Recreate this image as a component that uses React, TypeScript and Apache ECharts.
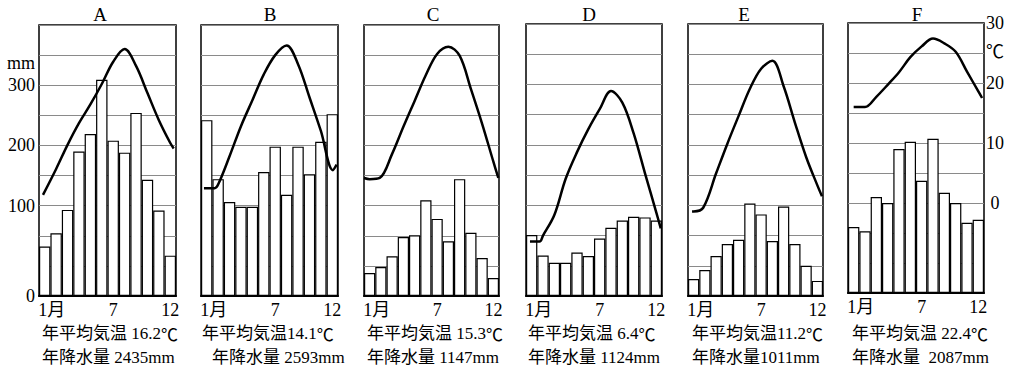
import { useEffect, useRef } from "react";
import * as echarts from "echarts";

const FONT = "'Liberation Serif', 'Noto Sans CJK JP', serif";
const CJK = "'Noto Sans CJK JP', sans-serif";

const panelNames = ["A", "B", "C", "D", "E", "F"];
const months = ["1", "2", "3", "4", "5", "6", "7", "8", "9", "10", "11", "12"];
const monthTickLabels = ["1月", "", "", "", "", "", "7", "", "", "", "", "12"];

// precipitation (mm) per month
const precipA = [82, 104, 143, 240, 269, 359, 258, 238, 304, 193, 142, 67];
const precipB = [292, 194, 156, 148, 148, 206, 248, 168, 248, 202, 256, 302];
const precipC = [38, 48, 66, 98, 101, 159, 128, 91, 194, 105, 63, 30];
const precipD = [101, 67, 55, 55, 72, 66, 95, 113, 125, 131, 130, 125];
const precipE = [28, 43, 66, 86, 93, 153, 135, 91, 148, 86, 50, 25];
const precipF = [110, 103, 160, 150, 240, 252, 187, 257, 167, 150, 117, 122];

// temperature curves: [month position (0..12, month k centred at k-0.5), °C]
const tempA: [number, number][] = [[0.35, 1.8], [1.5, 6.1], [2.5, 10.1], [3.5, 13.7], [4.5, 16.8], [5.5, 20.2], [6.5, 23.9], [7.5, 26.0], [8.5, 23.2], [9.5, 18.7], [10.5, 14.2], [11.5, 10.4], [11.8, 9.5]];
const tempB: [number, number][] = [[0.26, 2.9], [0.5, 2.9], [1.2, 2.9], [1.5, 3.5], [2.5, 8.2], [3.5, 13.2], [4.5, 17.5], [5.5, 21.8], [6.5, 25.0], [7.5, 26.6], [8.5, 23.5], [9.5, 18.0], [10.5, 12.4], [11.55, 5.9], [11.88, 6.8]];
const tempC: [number, number][] = [[0, 4.6], [0.5, 4.4], [1.4, 4.6], [2.5, 8.6], [3.5, 13.1], [4.5, 17.4], [5.5, 21.7], [6.5, 25.2], [7.5, 26.4], [8.5, 24.9], [9.5, 19.4], [10.5, 13.6], [11.5, 7.3], [11.94, 4.6]];
const tempD: [number, number][] = [[0.35, -6.0], [0.5, -6.0], [1.2, -6.0], [1.5, -5.0], [2.5, -1.6], [3.5, 4.4], [4.5, 8.8], [5.5, 12.6], [6.5, 15.9], [7.5, 18.9], [8.5, 17.0], [9.5, 11.9], [10.5, 5.3], [11.5, -1.2], [11.89, -3.8]];
const tempE: [number, number][] = [[0.36, -1.0], [0.5, -1.0], [1.35, -0.4], [2.5, 5.3], [3.5, 10.2], [4.5, 14.8], [5.5, 19.3], [6.5, 22.6], [7.5, 23.9], [8.5, 19.7], [9.5, 13.7], [10.5, 8.0], [11.5, 3.3], [11.91, 1.5]];
const tempF: [number, number][] = [[0.5, 16.0], [1.5, 16.0], [2.5, 17.7], [3.5, 19.7], [4.5, 21.8], [5.5, 24.3], [6.5, 26.1], [7.5, 27.4], [8.5, 26.6], [9.5, 25.2], [10.5, 21.9], [11.5, 18.6], [11.83, 17.5]];

const meanTempTexts = ["年平均気温 16.2℃", "年平均気温14.1℃", "年平均気温 15.3℃", "年平均気温 6.4℃", "年平均気温11.2℃", "年平均気温 22.4℃"];
const annualPrecipTexts = ["年降水量 2435mm", "年降水量 2593mm", "年降水量 1147mm", "年降水量 1124mm", "年降水量1011mm", "年降水量  2087mm"];

// left (precipitation) axis tick labels as printed, right (temperature) axis labels
const mmTickValues = [0, 150, 250, 350, 400];
const mmTickLabels = ["0", "100", "200", "300", "mm"];
const tempTickValues = [0, 10, 20, 25, 30];
const tempTickLabels = ["0", "10", "20", "℃", "30"];

const precip = [precipA, precipB, precipC, precipD, precipE, precipF];
const temps = [tempA, tempB, tempC, tempD, tempE, tempF];

// layout
const boxes = [
  { left: 39, top: 25, width: 137, height: 271 },
  { left: 201, top: 25, width: 137, height: 271 },
  { left: 364, top: 25, width: 135, height: 271 },
  { left: 526, top: 24, width: 136, height: 272 },
  { left: 688, top: 24, width: 135, height: 272 },
  { left: 848, top: 23, width: 136, height: 270 },
];
const titleX = [100, 270, 433, 589, 744, 917];
const line1X = [42, 202, 367, 528, 692, 852];
const line2X = [42, 212, 367, 528, 692, 852];

const withCelsius = (s: string) => s.replace("℃", "{c|℃}");

export default function App() {
  const ref = useRef<HTMLDivElement>(null);
  useEffect(() => {
    if (!ref.current) return;
    const chart = echarts.init(ref.current, undefined, { renderer: "svg" });
    const grid: any[] = [];
    const xAxis: any[] = [];
    const yAxis: any[] = [];
    const series: any[] = [];
    const graphic: any[] = [];
    panelNames.forEach((name, i) => {
      const b = boxes[i];
      grid.push({ ...b, show: true, borderColor: "#000", borderWidth: 1.5, backgroundColor: "transparent" });
      xAxis.push({
        type: "category",
        gridIndex: i,
        data: months,
        boundaryGap: true,
        axisLine: { show: true, lineStyle: { color: "#000", width: 2 } },
        axisTick: { show: false },
        axisLabel: {
          interval: 0,
          margin: 5,
          color: "#000",
          fontSize: 18,
          fontFamily: FONT,
          formatter: (_v: string, idx: number) => (idx === 0 ? "{f|" + monthTickLabels[idx] + "}" : monthTickLabels[idx]),
          rich: { f: { fontSize: 18, fontFamily: FONT, color: "#000", padding: [0, 0, 0, 14] } },
        },
      });
      xAxis.push({ type: "value", gridIndex: i, min: 0, max: 12, show: false });
      yAxis.push({
        type: "value",
        gridIndex: i,
        min: 0,
        max: 450,
        interval: 50,
        position: "left",
        axisLine: { show: false },
        axisTick: { show: false },
        splitLine: { show: true, lineStyle: { color: "#8a8a8a", width: 1 } },
        axisLabel:
          i === 0
            ? {
                show: true,
                margin: 4,
                color: "#000",
                fontSize: 18,
                fontFamily: FONT,
                formatter: (v: number) => {
                  const k = mmTickValues.indexOf(v);
                  if (k < 0) return "";
                  return mmTickLabels[k] === "mm" ? "{u|mm}" : mmTickLabels[k];
                },
                rich: { u: { fontSize: 18, fontFamily: FONT, color: "#000", padding: [16, 0, 0, 0] } },
              }
            : { show: false },
      });
      yAxis.push({
        type: "value",
        gridIndex: i,
        min: -15,
        max: 30,
        interval: 5,
        position: "right",
        axisLine: { show: false },
        axisTick: { show: false },
        splitLine: { show: false },
        axisLabel:
          i === 5
            ? {
                show: true,
                margin: 11,
                align: "center",
                color: "#000",
                fontSize: 18,
                fontFamily: FONT,
                formatter: (v: number) => {
                  const k = tempTickValues.indexOf(v);
                  if (k < 0) return "";
                  return tempTickLabels[k] === "℃" ? "{u|℃}" : tempTickLabels[k];
                },
                rich: { u: { fontSize: 18, fontFamily: CJK, color: "#000", padding: [0, 0, 6, 0] } },
              }
            : { show: false },
      });
      series.push({
        type: "bar",
        xAxisIndex: 2 * i,
        yAxisIndex: 2 * i,
        data: precip[i],
        barCategoryGap: "0%",
        barGap: "0%",
        itemStyle: { color: "#fff", borderColor: "#000", borderWidth: 1.2 },
        emphasis: { disabled: true },
        z: 2,
      });
      series.push({
        type: "line",
        xAxisIndex: 2 * i + 1,
        yAxisIndex: 2 * i + 1,
        data: temps[i],
        smooth: 0.35,
        showSymbol: false,
        lineStyle: { color: "#000", width: 2.5 },
        emphasis: { disabled: true },
        z: 5,
      });
      graphic.push({
        type: "text",
        x: titleX[i],
        y: 14,
        style: { text: name, fontSize: 19, fontFamily: FONT, fill: "#000", textAlign: "center", textVerticalAlign: "middle" },
      });
      graphic.push({
        type: "text",
        x: line1X[i],
        y: 333,
        style: {
          text: withCelsius(meanTempTexts[i]),
          fontSize: 17,
          fontFamily: FONT,
          fill: "#000",
          textAlign: "left",
          textVerticalAlign: "middle",
          rich: { c: { fontSize: 17, fontFamily: CJK, fill: "#000" } },
        },
      });
      graphic.push({
        type: "text",
        x: line2X[i],
        y: 357,
        style: { text: annualPrecipTexts[i], fontSize: 17, fontFamily: FONT, fill: "#000", textAlign: "left", textVerticalAlign: "middle" },
      });
    });
    chart.setOption({
      animation: false,
      backgroundColor: "#fff",
      grid,
      xAxis,
      yAxis,
      series,
      graphic,
    });
    return () => chart.dispose();
  }, []);
  return <div ref={ref} style={{ position: "absolute", left: 0, top: 0, width: 1014, height: 372 }} />;
}
